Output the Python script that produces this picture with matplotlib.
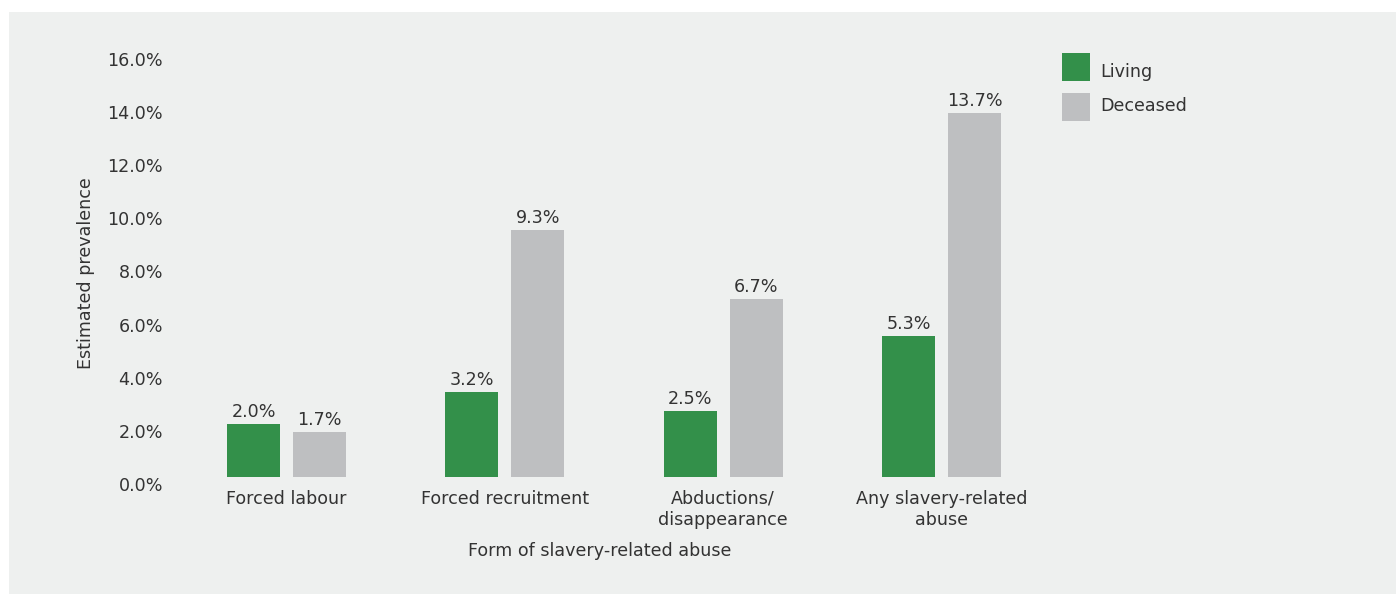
import matplotlib
matplotlib.use("Agg")
import matplotlib.pyplot as plt
import matplotlib.transforms as mtransforms
from matplotlib.patches import Rectangle
import numpy as np

categories = ["Forced labour", "Forced recruitment", "Abductions/\ndisappearance",
              "Any slavery-related\nabuse"]
living = [2.0, 3.2, 2.5, 5.3]
deceased = [1.7, 9.3, 6.7, 13.7]
series_names = ["Living", "Deceased"]
yticks = [0, 2, 4, 6, 8, 10, 12, 14, 16]

green = "#33904a"
grey = "#bebfc1"
bg = "#eef0ef"
txt = "#333333"
fs = 12.6

plt.rcParams['font.family'] = ['DejaVu Sans']
plt.rcParams['font.size'] = fs

W, H = 1396, 594
fig = plt.figure(figsize=(W / 100, H / 100), dpi=100)
fig.patch.set_facecolor("white")
fig.patches.append(Rectangle((9 / W, 0), 1 - 9 / W, 1 - 12 / H, transform=fig.transFigure,
                             facecolor=bg, edgecolor="none", zorder=-5))

# axes placed in pixel terms
left, right, bottom, top = 190, 1040, 477, 52
ax = fig.add_axes([left / W, 1 - bottom / H, (right - left) / W, (bottom - top) / H])
ax.set_facecolor("none")

x = np.arange(len(categories))
w = 0.243
off = 0.151
b1 = ax.bar(x - off, living, w, color=green, label=series_names[0])
b2 = ax.bar(x + off, deceased, w, color=grey, label=series_names[1])

for bars, vals in ((b1, living), (b2, deceased)):
    for r, v in zip(bars, vals):
        ax.annotate(f"{v:.1f}%", (r.get_x() + r.get_width() / 2, r.get_height()),
                    xytext=(0, 2), textcoords="offset points", ha="center", va="bottom",
                    color=txt, fontsize=fs)

ax.set_xlim(-0.442, 3.451)
ax.set_ylim(0, 16)
ax.set_yticks(yticks)
ax.set_yticklabels([f"{t:.1f}%" for t in yticks])
ax.set_xticks(x)
ax.set_xticklabels(categories, linespacing=1.25)
ax.tick_params(axis="both", length=0, colors=txt, labelsize=fs)
ax.tick_params(axis="y", pad=19.5)
ax.tick_params(axis="x", pad=9)
for s in ax.spines.values():
    s.set_visible(False)

# tick labels sit a little below their data positions in the original
shift = mtransforms.ScaledTranslation(0, -7 / 100, fig.dpi_scale_trans)
for lab in ax.get_yticklabels():
    lab.set_transform(lab.get_transform() + shift)

fig.text(600 / W, 1 - 551 / H, "Form of slavery-related abuse", ha="center", va="center",
         color=txt, fontsize=fs)
fig.text(86 / W, 1 - 273 / H, "Estimated prevalence", ha="center", va="center",
         rotation=90, color=txt, fontsize=fs)

# legend: two swatches with labels to the right
swatch_tops = [53, 93]
label_baselines = [77, 111]
for name, col, y0, yb in zip(series_names, [green, grey], swatch_tops, label_baselines):
    fig.patches.append(Rectangle((1062 / W, 1 - (y0 + 28) / H), 28 / W, 28 / H,
                                 transform=fig.transFigure, facecolor=col, edgecolor="none"))
    fig.text(1100 / W, 1 - yb / H, name, ha="left", va="baseline", color=txt, fontsize=fs)

fig.savefig("out.png", dpi=100, facecolor=fig.get_facecolor())
